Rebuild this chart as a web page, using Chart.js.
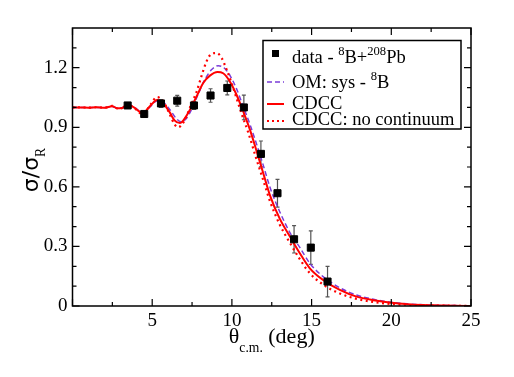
<!DOCTYPE html>
<html lang="en">
<head>
  <meta charset="UTF-8">
  <title>8B + 208Pb elastic scattering</title>
  <script src="https://cdn.jsdelivr.net/npm/chart.js"></script>
  <style>
    html, body { margin: 0; padding: 0; background: #fff; }
  </style>
</head>
<body>
  <canvas id="chart" width="514" height="377"></canvas>

  <script>
    // measured points (sigma / sigma_Rutherford)
    const dataTheta = [3.46, 4.5, 5.55, 6.57, 7.62, 8.66, 9.71, 10.75, 11.82, 12.86, 13.9, 14.95, 16.0];
    const dataRatio = [1.01, 0.967, 1.02, 1.034, 1.01, 1.06, 1.098, 1.0, 0.766, 0.568, 0.336, 0.294, 0.123];
    const dataErr   = [0.008, 0.01, 0.02, 0.027, 0.02, 0.034, 0.035, 0.062, 0.065, 0.07, 0.069, 0.084, 0.077];

    // OM: systematics - 8B
    const omTheta = [0, 0.5, 1.0, 1.5, 2.0, 2.5, 2.8, 3.1, 3.4, 3.8, 4.4, 4.9, 5.3, 5.7, 6.1, 6.5, 6.8, 7.1, 7.5, 7.9,
                     8.3, 8.7, 9.14, 9.5, 9.9, 10.3, 10.71, 11.13, 11.55, 12.0, 12.4, 13.0, 13.64, 14.26, 14.89, 15.72,
                     16.77, 17.82, 19.0, 20.0, 21.0, 22.0, 23.0, 24.0, 25.0];
    const omRatio = [1.0, 1.0, 1.0, 1.0, 0.999, 1.004, 0.998, 0.998, 1.01, 1.005, 0.975, 1.005, 1.032, 1.025, 0.99, 0.945, 0.928, 0.94, 0.995, 1.07,
                     1.14, 1.188, 1.21, 1.2, 1.158, 1.092, 1.005, 0.915, 0.815, 0.7, 0.595, 0.475, 0.37, 0.295, 0.215, 0.148,
                     0.092, 0.055, 0.032, 0.019, 0.011, 0.006, 0.003, 0.002, 0.001];

    // CDCC
    const cdccTheta = [0, 0.5, 1.0, 1.5, 2.0, 2.5, 2.8, 3.1, 3.4, 3.8, 4.4, 4.9, 5.3, 5.7, 6.1, 6.4, 6.74, 7.0, 7.37, 7.79,
                       8.2, 8.62, 9.1, 9.45, 9.87, 10.29, 10.71, 11.13, 11.55, 12.0, 12.4, 13.0, 13.64, 14.26, 14.89, 15.72,
                       16.77, 17.82, 19.0, 20.0, 21.0, 22.0, 23.0, 24.0, 25.0];
    const cdccRatio = [1.0, 1.0, 0.999, 1.001, 0.998, 1.006, 0.996, 0.997, 1.012, 1.003, 0.972, 1.01, 1.037, 1.02, 0.975, 0.935, 0.921, 0.94, 0.988, 1.056,
                       1.123, 1.16, 1.178, 1.172, 1.131, 1.064, 0.98, 0.888, 0.78, 0.66, 0.555, 0.44, 0.35, 0.266, 0.19, 0.131,
                       0.081, 0.047, 0.028, 0.016, 0.009, 0.005, 0.003, 0.001, 0.0];

    // CDCC: no continuum
    const ncTheta = [0, 0.5, 1.0, 1.5, 2.0, 2.5, 2.8, 3.1, 3.4, 3.8, 4.4, 4.9, 5.3, 5.7, 6.1, 6.4, 6.63, 7.0, 7.47, 7.79,
                     8.1, 8.41, 8.72, 9.04, 9.35, 9.67, 9.98, 10.29, 10.6, 11.02, 11.5, 12.0, 12.4, 13.0, 13.64, 14.26,
                     14.89, 15.72, 16.77, 17.82, 19.0, 20.0, 21.0, 22.0, 23.0, 24.0, 25.0];
    const ncRatio = [1.0, 1.0, 0.999, 1.001, 0.998, 1.008, 0.995, 0.996, 1.015, 1.002, 0.966, 1.015, 1.052, 1.03, 0.965, 0.915, 0.9, 0.93, 1.02, 1.08,
                     1.16, 1.232, 1.27, 1.274, 1.25, 1.19, 1.123, 1.047, 0.97, 0.875, 0.75, 0.625, 0.525, 0.41, 0.318, 0.236,
                     0.165, 0.108, 0.063, 0.036, 0.019, 0.01, 0.006, 0.003, 0.002, 0.001, 0.0];

    const xTicks = [0, 5, 10, 15, 20, 25];
    const xMinor = [2.5, 7.5, 12.5, 17.5, 22.5];
    const yTicks = [0, 0.3, 0.6, 0.9, 1.2];
    const yMinor = [0.1, 0.2, 0.4, 0.5, 0.7, 0.8, 1.0, 1.1, 1.3];

    const SERIF = "'Liberation Serif', 'DejaVu Serif', serif";
    const SANS = "'DejaVu Sans', sans-serif";
    const RED = '#ff0000';
    const PURPLE = '#7a3cd8';

    const pts = (xs, ys) => xs.map((x, i) => ({ x: x, y: ys[i] }));

    // error bars under the squares
    const errorBars = {
      id: 'errorBars',
      beforeDatasetsDraw(chart) {
        const ctx = chart.ctx, xs = chart.scales.x, ys = chart.scales.y;
        ctx.save();
        ctx.strokeStyle = '#555';
        ctx.lineWidth = 1.2;
        dataTheta.forEach((t, i) => {
          const px = xs.getPixelForValue(t);
          const top = ys.getPixelForValue(dataRatio[i] + dataErr[i]);
          const bot = ys.getPixelForValue(dataRatio[i] - dataErr[i]);
          ctx.beginPath();
          ctx.moveTo(px, top); ctx.lineTo(px, bot);
          ctx.moveTo(px - 2, top); ctx.lineTo(px + 2, top);
          ctx.moveTo(px - 2, bot); ctx.lineTo(px + 2, bot);
          ctx.stroke();
        });
        ctx.restore();
      }
    };

    // frame with inward ticks on all four sides
    const frame = {
      id: 'frame',
      afterDraw(chart) {
        const ctx = chart.ctx, a = chart.chartArea, xs = chart.scales.x, ys = chart.scales.y;
        ctx.save();
        ctx.strokeStyle = '#000';
        ctx.lineWidth = 1.5;
        ctx.strokeRect(a.left, a.top, a.right - a.left, a.bottom - a.top);
        ctx.lineWidth = 1.2;
        ctx.beginPath();
        const xt = (v, len) => {
          const p = xs.getPixelForValue(v);
          ctx.moveTo(p, a.bottom); ctx.lineTo(p, a.bottom - len);
          ctx.moveTo(p, a.top); ctx.lineTo(p, a.top + len);
        };
        const yt = (v, len) => {
          const p = ys.getPixelForValue(v);
          ctx.moveTo(a.left, p); ctx.lineTo(a.left + len, p);
          ctx.moveTo(a.right, p); ctx.lineTo(a.right - len, p);
        };
        xTicks.forEach(v => xt(v, 7));
        xMinor.forEach(v => xt(v, 4));
        yTicks.forEach(v => yt(v, 7));
        yMinor.forEach(v => yt(v, 4));
        ctx.stroke();
        ctx.restore();
      }
    };

    // text with super/subscripts: part = {t, sup, sub, font}
    function partStyle(p, size) {
      const small = p.small || 0.68;
      const s = p.sup || p.sub ? size * small : size;
      const dy = p.sup ? -size * 0.45 : (p.sub ? (p.drop || size * 0.35) : 0);
      return { s: s, dy: dy, fam: p.font || SERIF };
    }
    function drawRich(ctx, parts, x, y, size) {
      parts.forEach(p => {
        const st = partStyle(p, size);
        ctx.font = st.s + 'px ' + st.fam;
        ctx.fillText(p.t, x, y + st.dy);
        x += ctx.measureText(p.t).width;
      });
      return x;
    }
    function richWidth(ctx, parts, size) {
      let w = 0;
      parts.forEach(p => {
        const st = partStyle(p, size);
        ctx.font = st.s + 'px ' + st.fam;
        w += ctx.measureText(p.t).width;
      });
      return w;
    }

    const titles = {
      id: 'titles',
      afterDraw(chart) {
        const ctx = chart.ctx, a = chart.chartArea;
        ctx.save();
        ctx.fillStyle = '#000';
        ctx.textBaseline = 'alphabetic';
        ctx.textAlign = 'left';

        // x title
        const xParts = [{ t: 'θ' }, { t: 'c.m.', sub: true, small: 0.62, drop: 9 }, { t: ' (deg)' }];
        const xw = richWidth(ctx, xParts, 22);
        drawRich(ctx, xParts, (a.left + a.right) / 2 - xw / 2, 343, 22);

        // y title
        const yParts = [{ t: 'σ/σ', font: SANS }, { t: 'R', sub: true, small: 0.62, drop: 7 }];
        const yw = richWidth(ctx, yParts, 22);
        ctx.save();
        ctx.translate(38, 170);
        ctx.rotate(-Math.PI / 2);
        drawRich(ctx, yParts, -yw / 2, 0, 22);
        ctx.restore();

        // legend box
        const L = a.left + 190.5, T = a.top + 12.5, W = 198, H = 88.5;
        ctx.lineWidth = 1.5;
        ctx.strokeStyle = '#000';
        ctx.strokeRect(L, T, W, H);
        const tx = L + 29, sz = 18.5;

        ctx.fillRect(L + 9, T + 9.5, 7, 7);
        drawRich(ctx, [{ t: 'data - ' }, { t: '8', sup: true }, { t: 'B+' }, { t: '208', sup: true }, { t: 'Pb' }], tx, T + 22.5, sz);

        ctx.lineWidth = 1.5;
        ctx.strokeStyle = PURPLE;
        ctx.setLineDash([5, 3]);
        ctx.beginPath(); ctx.moveTo(L + 4, T + 41.5); ctx.lineTo(L + 21, T + 41.5); ctx.stroke();
        drawRich(ctx, [{ t: 'OM: sys - ' }, { t: '8', sup: true }, { t: 'B' }], tx, T + 47.5, sz);

        ctx.strokeStyle = RED;
        ctx.lineWidth = 2;
        ctx.setLineDash([]);
        ctx.beginPath(); ctx.moveTo(L + 4, T + 63.5); ctx.lineTo(L + 21, T + 63.5); ctx.stroke();
        drawRich(ctx, [{ t: 'CDCC' }], tx, T + 68.5, sz);

        ctx.setLineDash([2, 3]);
        ctx.beginPath(); ctx.moveTo(L + 4, T + 80.5); ctx.lineTo(L + 21, T + 80.5); ctx.stroke();
        drawRich(ctx, [{ t: 'CDCC: no continuum' }], tx, T + 84.5, sz);
        ctx.restore();
      }
    };

    new Chart(document.getElementById('chart'), {
      type: 'line',
      data: {
        datasets: [
          {
            label: 'data',
            data: pts(dataTheta, dataRatio),
            showLine: false,
            pointStyle: 'rect',
            pointRadius: 5,
            pointBorderWidth: 1,
            pointBackgroundColor: '#000',
            pointBorderColor: '#000',
            order: 0
          },
          {
            label: 'CDCC: no continuum',
            data: pts(ncTheta, ncRatio),
            borderColor: RED,
            borderWidth: 2.2,
            borderDash: [2, 3.5],
            pointRadius: 0,
            cubicInterpolationMode: 'monotone',
            order: 1
          },
          {
            label: 'CDCC',
            data: pts(cdccTheta, cdccRatio),
            borderColor: RED,
            borderWidth: 2,
            pointRadius: 0,
            cubicInterpolationMode: 'monotone',
            order: 2
          },
          {
            label: 'OM: sys - 8B',
            data: pts(omTheta, omRatio),
            borderColor: PURPLE,
            borderWidth: 1.5,
            borderDash: [5, 3],
            pointRadius: 0,
            cubicInterpolationMode: 'monotone',
            order: 3
          }
        ]
      },
      options: {
        responsive: false,
        animation: false,
        layout: { padding: { top: 28, right: 43, left: 0, bottom: 0 } },
        plugins: {
          legend: { display: false },
          tooltip: { enabled: false }
        },
        scales: {
          x: {
            type: 'linear',
            min: 0, max: 25,
            afterBuildTicks: s => { s.ticks = xTicks.map(v => ({ value: v })); },
            afterFit: s => { s.height = 71; },
            grid: { display: false, drawTicks: false },
            border: { display: false },
            ticks: {
              padding: 4,
              color: '#000',
              font: { family: SERIF, size: 19 },
              callback: v => (v === 0 ? '' : v)
            }
          },
          y: {
            type: 'linear',
            min: 0, max: 1.4,
            afterBuildTicks: s => { s.ticks = yTicks.map(v => ({ value: v })); },
            afterFit: s => { s.width = 72.5; },
            grid: { display: false, drawTicks: false },
            border: { display: false },
            ticks: {
              padding: 5,
              color: '#000',
              font: { family: SERIF, size: 19 },
              callback: v => (v === 0 ? '0' : v.toFixed(1))
            }
          }
        }
      },
      plugins: [errorBars, frame, titles]
    });
  </script>
</body>
</html>
